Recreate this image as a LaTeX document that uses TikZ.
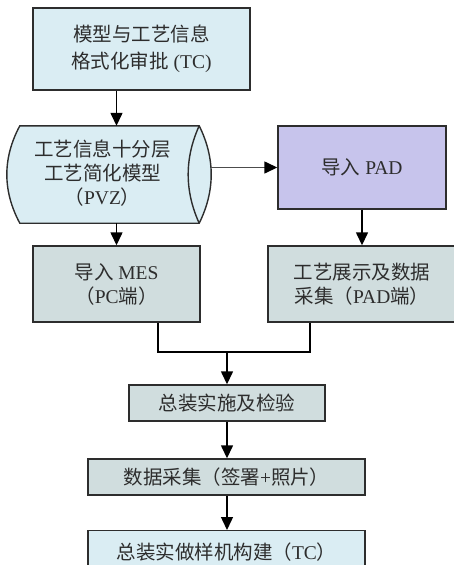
\documentclass[tikz,border=0pt]{standalone}
\usepackage{fontspec}
\setmainfont{Liberation Serif}
\newfontfamily\cjk{Noto Sans CJK SC}
\newcommand{\zh}[1]{{\cjk #1}}
\usetikzlibrary{arrows.meta,calc}

\definecolor{lblue}{RGB}{218,237,243}
\definecolor{lav}{RGB}{199,196,236}
\definecolor{lgray}{RGB}{208,221,222}
\definecolor{edge}{RGB}{45,45,45}
\definecolor{ink}{RGB}{45,45,45}

\tikzset{
  box/.style={draw=edge, line width=1.4pt, inner sep=0pt, align=center,
    text=ink, font=\fontsize{19.5}{24}\selectfont},
  bluebox/.style={box, fill=lblue},
  lavbox/.style={box, fill=lav},
  graybox/.style={box, fill=lgray},
  cylbody/.style={inner sep=0pt},
  lbl/.style={inner sep=0pt, align=center, text=ink, font=\fontsize{19.5}{24}\selectfont},
  link/.style={line width=1.4pt, draw=black},
  arr/.style={link, -{Triangle[length=13pt,width=12pt,color=black]}},
}

\begin{document}
\begin{tikzpicture}[x=1pt,y=-1pt]
\useasboundingbox (0,0) rectangle (454,565);
\clip (0,0) rectangle (454,565);

% top approval box
\node[bluebox, minimum width=217pt, minimum height=82pt] (b1) at (141.5,49)
  {\zh{模型与工艺信息}\\[3pt]\zh{格式化审批} (TC)};

% stored-data (cylinder) symbol
\node[cylbody, minimum width=179pt, minimum height=97pt] (cyl) at (109.5,174.5) {};
\draw[draw=edge, line width=1.4pt, fill=lblue]
  (cyl.north west) -- (cyl.north east)
  .. controls +(16,32.3) and +(16,-32.3) .. (cyl.south east)
  -- (cyl.south west)
  .. controls +(-17.3,-32.3) and +(-17.3,32.3) .. (cyl.north west) -- cycle;
\draw[draw=edge, line width=1.4pt]
  (cyl.north east) .. controls +(-14.7,32.3) and +(-14.7,-32.3) .. (cyl.south east);
\coordinate (cylr) at ($(cyl.east)+(12,0)$);
\node[lbl] (cyltxt) at ($(cyl.center)+(-7,-1)$)
  {\zh{工艺信息十分层}\\\zh{工艺简化模型}\\\zh{（}PVZ\zh{）}};

% PAD import
\node[lavbox, minimum width=168pt, minimum height=83pt] (pad) at (362,167.5)
  {\zh{导入} PAD};

% MES import and PAD display
\node[graybox, minimum width=167pt, minimum height=76pt] (mes) at (116.5,284)
  {\zh{导入} MES\\\zh{（}PC\zh{端）}};
\node[graybox, minimum width=188pt, minimum height=76pt] (rb) at (362,284)
  {\zh{工艺展示及数据}\\\zh{采集（}PAD\zh{端）}};

% assembly steps
\node[graybox, minimum width=196pt, minimum height=36pt] (b4) at (227,403)
  {\zh{总装实施及检验}};
\node[graybox, minimum width=277pt, minimum height=36pt] (b5) at (226.5,477)
  {\zh{数据采集（签署}+\zh{照片）}};
\node[bluebox, minimum width=277pt, minimum height=70pt, anchor=north] (b6) at (226.5,530) {};
\node[lbl] (b6txt) at (226.5,552) {\zh{总装实做样机构建（}TC\zh{）}};

% connectors
\draw[arr] (b1.south -| mes) -- (cyl.north -| mes);
\draw[arr] (cyl.south -| mes) -- (mes.north);
\draw[arr, draw=black!70] (cylr |- pad.west) -- (pad.west);
\draw[arr] (pad.south) -- (rb.north);
\coordinate (jn) at (227,352);
\draw[link] ([xshift=41.5pt]mes.south) |- (jn) -| ([xshift=-52pt]rb.south);
\draw[arr] (jn) -- (b4.north);
\draw[arr] (b4.south) -- (b5.north -| b4.south);
\draw[arr] (b5.south -| b4.south) -- (b6.north -| b4.south);
\end{tikzpicture}
\end{document}
